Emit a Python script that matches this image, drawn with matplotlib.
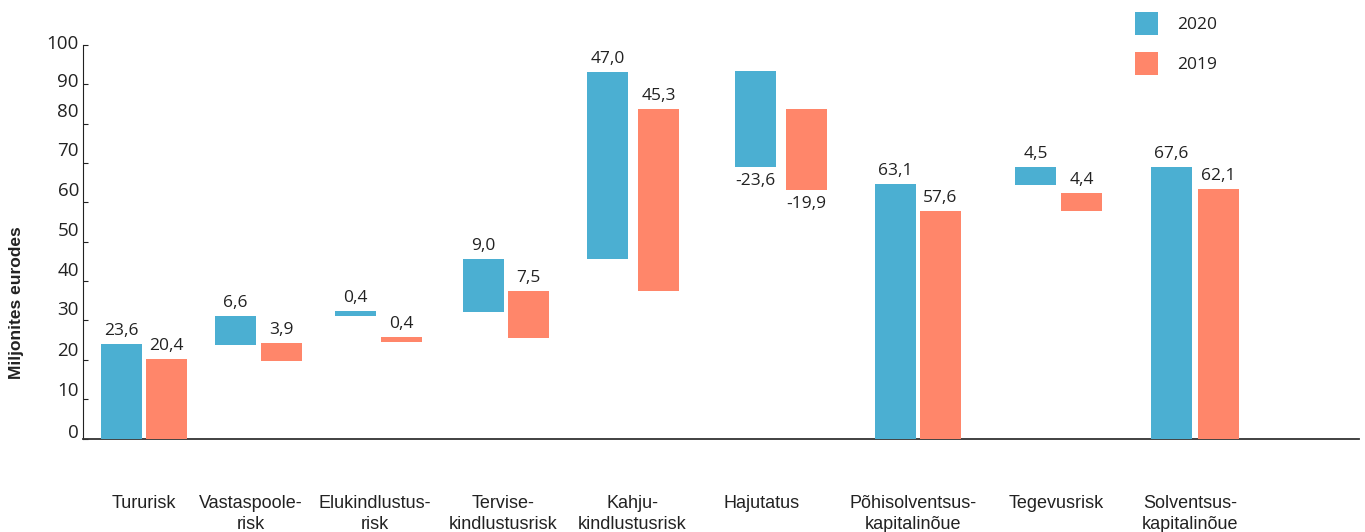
import matplotlib
matplotlib.use("Agg")
import matplotlib.pyplot as plt
import numpy as np

plt.rcParams['font.family'] = ['Open Sans', 'DejaVu Sans']

# ---------------- data ----------------
categories = ["Tururisk", "Vastaspoole-\nrisk", "Elukindlustus-\nrisk",
              "Tervise-\nkindlustusrisk", "Kahju-\nkindlustusrisk", "Hajutatus",
              "Põhisolventsus-\nkapitalinõue", "Tegevusrisk",
              "Solventsus-\nkapitalinõue"]
series_names = ["2020", "2019"]
values_2020 = [23.6, 6.6, 0.4, 9.0, 47.0, -23.6, 63.1, 4.5, 67.6]
values_2019 = [20.4, 3.9, 0.4, 7.5, 45.3, -19.9, 57.6, 4.4, 62.1]
# bar extents as drawn in the source chart
low_2020 = [0.0, 23.8, 31.1, 32.2, 45.6, 69.0, 0.0, 64.5, 0.0]
high_2020 = [24.0, 31.1, 32.4, 45.6, 93.1, 93.4, 64.7, 69.0, 69.0]
low_2019 = [0.0, 19.7, 24.5, 25.5, 37.4, 63.1, 0.0, 57.8, 0.0]
high_2019 = [20.2, 24.3, 25.8, 37.4, 83.7, 83.7, 57.8, 62.4, 63.4]
y_ticks = [0, 10, 20, 30, 40, 50, 60, 70, 80, 90, 100]

# ---------------- layout (pixel based) ----------------
W, H = 1365, 532
group_centers = [144, 258.5, 378.5, 506, 633, 781, 918, 1058.5, 1195]
pair_sep = [45, 46, 46, 45, 51, 51, 45, 46, 47]
label_centers = [144, 250.5, 375, 503, 632, 762, 913, 1056, 1190]
tick_label_dy = [5, 8, 9, 10, 10, 11, 11, 12, 12, 2, 1]
bar_w = 41
c2020 = "#4BAFD2"
c2019 = "#FF866A"
txt = "#222222"

fig = plt.figure(figsize=(W / 100, H / 100), dpi=100)
ax = fig.add_axes([83 / W, (H - 438.5) / H, (1359 - 83) / W, (438.5 - 45) / H])
ax.set_xlim(83, 1359)
ax.set_ylim(0, 100)

gc = np.array(group_centers, dtype=float)
sep = np.array(pair_sep, dtype=float)
x20 = gc - sep / 2
x19 = gc + sep / 2

lo20, hi20 = np.array(low_2020), np.array(high_2020)
lo19, hi19 = np.array(low_2019), np.array(high_2019)

b1 = ax.bar(x20, hi20 - lo20, bottom=lo20, width=bar_w, color=c2020,
            label=series_names[0], zorder=3)
b2 = ax.bar(x19, hi19 - lo19, bottom=lo19, width=bar_w, color=c2019,
            label=series_names[1], zorder=3)

def fmt(v):
    return f"{v:.1f}".replace(".", ",")

for xs, vals, lo, hi in ((x20, values_2020, lo20, hi20), (x19, values_2019, lo19, hi19)):
    for x, v, l, h in zip(xs, vals, lo, hi):
        if v >= 0:
            ax.annotate(fmt(v), xy=(x, h), xytext=(0, 13), textcoords="offset pixels",
                        ha="center", va="center", fontsize=12.5, color=txt,
                        annotation_clip=False)
        else:
            ax.annotate(fmt(v), xy=(x, l), xytext=(0, -14), textcoords="offset pixels",
                        ha="center", va="center", fontsize=12.5, color=txt,
                        annotation_clip=False)

# y axis
ax.set_yticks(y_ticks)
ax.set_yticklabels([])
ax.tick_params(axis="y", direction="in", length=3.5, width=0.8, color="#222222")
for t, dy in zip(y_ticks, tick_label_dy):
    ax.annotate(str(t), xy=(0, t), xycoords=("axes fraction", "data"),
                xytext=(-4, dy), textcoords="offset pixels", ha="right", va="center",
                fontsize=13.5, color=txt, annotation_clip=False)

# x axis
ax.set_xticks(label_centers)
ax.set_xticklabels(categories, fontsize=13, color=txt,
                   family=["Liberation Sans", "DejaVu Sans"], linespacing=1.3)
ax.tick_params(axis="x", length=0, pad=40.5)

for s in ("top", "right"):
    ax.spines[s].set_visible(False)
ax.spines["left"].set_linewidth(0.8)
ax.spines["left"].set_color("#222222")
ax.spines["bottom"].set_linewidth(1.3)
ax.spines["bottom"].set_color("#333333")

fig.text(17 / W, 1 - 303 / H, "Miljonites eurodes", rotation=90, ha="center",
         va="center", fontsize=12.5, fontweight="bold", color=txt,
         family=["Liberation Sans", "DejaVu Sans"])

fig.legend(handles=[b1, b2], labels=series_names, loc="upper left",
           bbox_to_anchor=(1135 / W, 1 - 12 / H), frameon=False, fontsize=12.5,
           handlelength=1.35, handleheight=1.65, labelspacing=0.97,
           handletextpad=1.1, borderpad=0, borderaxespad=0, labelcolor=txt)

fig.savefig("out.png", dpi=100)
